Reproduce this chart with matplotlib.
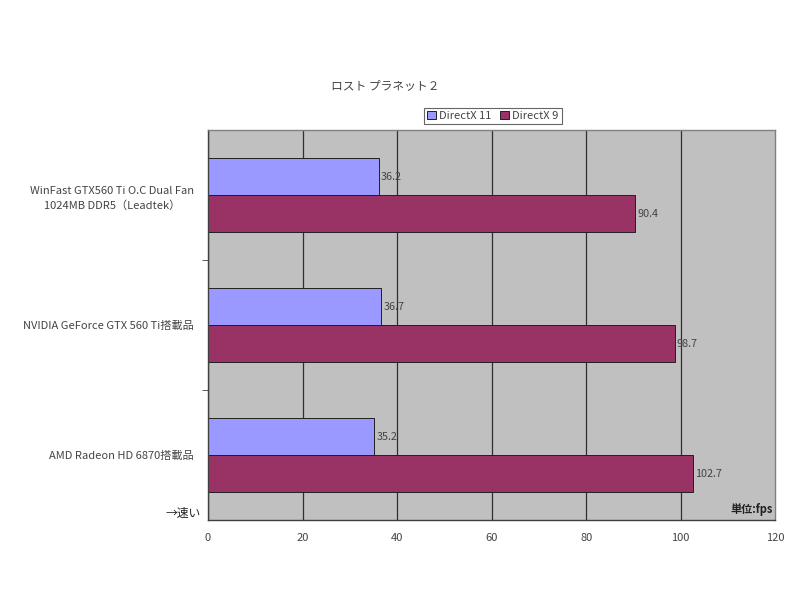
"""
Horizontal bar chart: Lost Planet 2 benchmark (fps).
"""

import numpy as np
import matplotlib
matplotlib.use("Agg")
import matplotlib.pyplot as plt

plt.rcParams['font.family'] = ['Noto Sans CJK JP', 'DejaVu Sans']

# Data #

cards = [
    "WinFast GTX560 Ti O.C Dual Fan\n1024MB DDR5（Leadtek）",
    "NVIDIA GeForce GTX 560 Ti搭載品",
    "AMD Radeon HD 6870搭載品",
]
dx11 = [36.2, 36.7, 35.2]
dx9 = [90.4, 98.7, 102.7]
x_ticks = [0, 20, 40, 60, 80, 100, 120]

# Figure #

fig = plt.figure(figsize=(8, 6), dpi=100)
ax = fig.add_axes([0.26, 0.133, 0.709, 0.65])
ax.set_facecolor("#C0C0C0")

text_color = "#444444"
bar_h = 0.285
y = np.arange(len(cards))

ax.barh(y - bar_h / 2, dx11, height=bar_h, color="#9999FF",
        edgecolor="#202020", linewidth=0.7, label="DirectX 11", zorder=2)
ax.barh(y + bar_h / 2, dx9, height=bar_h, color="#993366",
        edgecolor="#202020", linewidth=0.7, label="DirectX 9", zorder=2)

# Value labels
for i in range(len(cards)):
    ax.text(dx11[i] + 0.4, y[i] - bar_h / 2, f"{dx11[i]:.1f}", va="center",
            ha="left", fontsize=7.8, color=text_color, zorder=4)
    ax.text(dx9[i] + 0.4, y[i] + bar_h / 2, f"{dx9[i]:.1f}", va="center",
            ha="left", fontsize=7.8, color=text_color, zorder=4)

# Axes setup
ax.set_xlim(0, 120)
ax.set_ylim(len(cards) - 0.5, -0.5)
ax.set_xticks(x_ticks)
ax.set_xticklabels([str(t) for t in x_ticks], fontsize=8, color=text_color)
ax.tick_params(axis="x", length=0, pad=9)
ax.set_yticks(y)
ax.set_yticklabels(cards, fontsize=8, color=text_color, linespacing=1.5,
                   multialignment="center")
ax.tick_params(axis="y", which="major", length=0, pad=10)
ax.set_yticks(np.arange(1, len(cards)) - 0.5, minor=True)
ax.tick_params(axis="y", which="minor", length=4, color="#404040", direction="out")

ax.xaxis.grid(True, color="#303030", linewidth=0.9, zorder=1)
ax.get_xgridlines()[-1].set_visible(False)
ax.set_axisbelow(True)
for side in ["left", "bottom"]:
    ax.spines[side].set_color("#404040")
    ax.spines[side].set_linewidth(1.0)
for side in ["top", "right"]:
    ax.spines[side].set_color("#808080")
    ax.spines[side].set_linewidth(1.0)

# Extra texts
fig.text(0.251, 0.145, "→速い", ha="right", va="center", fontsize=8.5, color="#222222")
ax.text(0.995, 0.012, "単位:fps", transform=ax.transAxes, ha="right", va="bottom",
        fontsize=8, color="#222222", fontweight="bold")

fig.text(0.482, 0.858, "ロスト プラネット２", ha="center", va="center",
         fontsize=8.5, color=text_color)

leg = fig.legend(loc="center", bbox_to_anchor=(0.616, 0.807), ncol=2,
                 fontsize=8, frameon=True, fancybox=False, handlelength=0.8,
                 handleheight=0.8, handletextpad=0.3, columnspacing=0.8,
                 borderpad=0.25, borderaxespad=0)
leg.get_frame().set_edgecolor("#404040")
leg.get_frame().set_linewidth(0.8)
for t in leg.get_texts():
    t.set_color(text_color)

fig.savefig("out.png", dpi=100)
